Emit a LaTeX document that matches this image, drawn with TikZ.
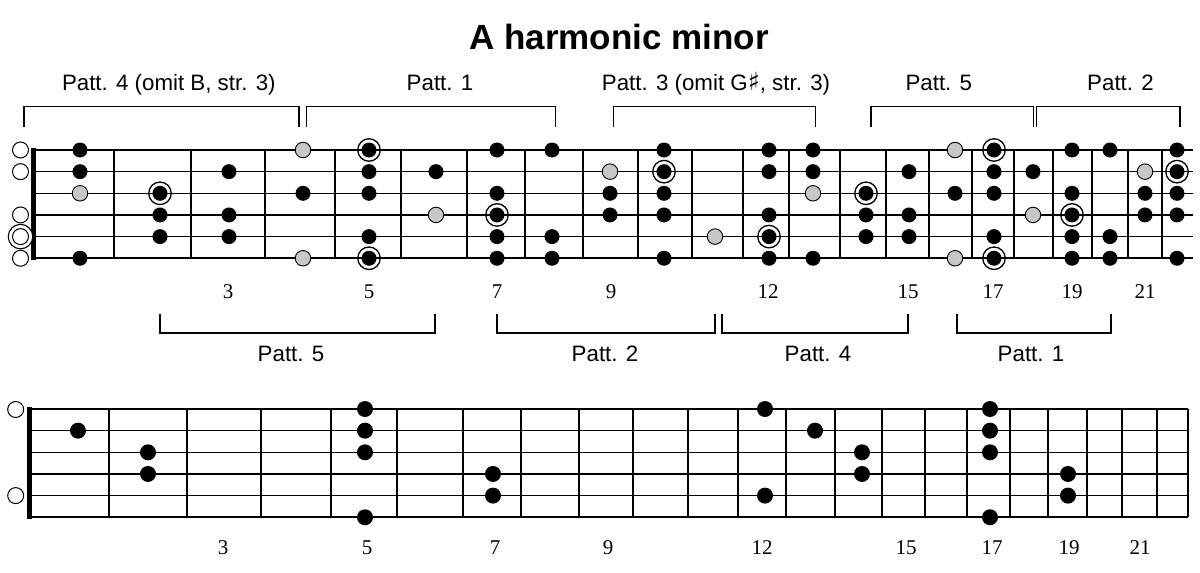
\documentclass[tikz,border=0pt]{standalone}
\usepackage{fontspec}
\setmainfont{Liberation Sans}
\newfontfamily\numfont{Liberation Serif}
\newfontfamily\symfont{DejaVu Sans}
\begin{document}
\begin{tikzpicture}[x=1pt,y=-1pt,
  blk/.style={circle,fill=black,inner sep=0pt,minimum size=15pt},
  gry/.style={circle,fill=black!22,draw=black,line width=0.9pt,inner sep=0pt,minimum size=15.5pt},
  ring/.style={circle,draw=black,line width=1.3pt,inner sep=0pt,minimum size=22.5pt},
  opn/.style={circle,draw=black,fill=white,line width=1pt,inner sep=0pt,minimum size=16pt},
  fretline/.style={line width=1.8pt},
  nutline/.style={line width=5pt},
  brk/.style={line width=1.3pt},
  patt/.style={font=\fontsize{22.3}{26}\selectfont,anchor=base},
  fnum/.style={font=\numfont\fontsize{21}{24}\selectfont,anchor=base},
  ttl/.style={font=\bfseries\fontsize{35}{40}\selectfont,anchor=base}]
\useasboundingbox (0,0) rectangle (1200,573);

% title
\node[ttl] (title) at (619,49) {A harmonic minor};

% ---------- top fretboard ----------
\foreach \s/\w in {1/1.8,2/1.1,3/1.1,4/1.6,5/1.6,6/1.8}
  \draw[line width=\w pt] (33,{150+(\s-1)*21.65}) -- (1193,{150+(\s-1)*21.65});
\foreach \f in {114,191,265,335,401,467,525,583,638,692,789,840,886,929,1014,1053,1092,1128,1162}
  \draw[fretline] (\f,150) -- (\f,258.25);
\foreach \f in {743,972}
  \draw[line width=2.6pt] (\f,150) -- (\f,258.25);
\draw[nutline] (33,148) -- (33,260);

% open strings
\foreach \s in {1,2,4,6}
  \node[opn] (top-o\s) at (20.5,{150+(\s-1)*21.65}) {};
\node[circle,draw=black,fill=white,line width=1.1pt,inner sep=0pt,minimum size=24.5pt] (top-o5r) at (20.5,236.6) {};
\node[opn] (top-o5) at (20.5,236.6) {};

% black dots
\foreach \x/\s in {80/1,80/2,80/6, 160/4,160/5, 229/2,229/4,229/5, 303/3,
  369/2,369/3,369/5, 436/2, 497/1,497/3,497/5,497/6, 552/1,552/5,552/6,
  610/3,610/4, 664/1,664/3,664/4,664/6, 769/1,769/2,769/4,769/6,
  813/1,813/2,813/6, 866/4,866/5, 909/2,909/4,909/5, 955/3,
  994/2,994/3,994/5, 1033/2, 1072/1,1072/3,1072/5,1072/6, 1110/1,1110/5,1110/6,
  1145/3,1145/4, 1177/1,1177/3,1177/4,1177/6}
  \node[blk] (tb-\x-\s) at (\x,{150+(\s-1)*21.65}) {};
% grey dots
\foreach \x/\s in {80/3, 303/1,303/6, 436/4, 610/2, 715/5, 813/3, 955/1,955/6, 1033/4, 1145/2}
  \node[gry] (tg-\x-\s) at (\x,{150+(\s-1)*21.65}) {};
% roots
\foreach \x/\s in {160/3, 369/1,369/6, 497/4, 664/2, 769/5, 866/3, 994/1,994/6, 1072/4, 1177/2}
  {\node[ring] (tr-\x-\s) at (\x,{150+(\s-1)*21.65}) {};
   \node[blk] (trd-\x-\s) at (\x,{150+(\s-1)*21.65}) {};}

% fret numbers top
\foreach \x/\n in {228/3,369/5,497/7,611/9,768/12,908/15,993/17,1072/19,1145/21}
  \node[fnum] (tn-\n) at (\x,298) {\n};

% ---------- brackets top ----------
\draw[brk] (24,127) -- (24,106.5) -- (299,106.5) -- (299,127);
\draw[brk] (306.7,127) -- (306.7,106.5) -- (555.7,106.5) -- (555.7,127);
\draw[brk] (613.3,127) -- (613.3,106.5) -- (815.7,106.5) -- (815.7,127);
\draw[brk] (871,127) -- (871,106.5) -- (1033.3,106.5) -- (1033.3,127);
\draw[brk] (1036.7,127) -- (1036.7,106.5) -- (1180,106.5) -- (1180,127);
\node[patt] (p4) at (168.8,90.5) {Patt. 4 (omit B, str. 3)};
\node[patt] (p1) at (440,90.5) {Patt. 1};
\node[patt] (p3) at (716,90.5) {Patt. 3 (omit G{\symfont\fontsize{25}{26}\selectfont ♯}, str. 3)};
\node[patt] (p5) at (938.8,90.5) {Patt. 5};
\node[patt] (p2) at (1120.5,90.5) {Patt. 2};

% ---------- brackets bottom ----------
\draw[brk] (160,314) -- (160,333) -- (435,333) -- (435,314);
\draw[brk] (497,314) -- (497,333) -- (715,333) -- (715,314);
\draw[brk] (722,314) -- (722,333) -- (908,333) -- (908,314);
\draw[brk] (957,314) -- (957,333) -- (1111,333) -- (1111,314);
\node[patt] (q5) at (291,361) {Patt. 5};
\node[patt] (q2) at (605,361) {Patt. 2};
\node[patt] (q4) at (818,361) {Patt. 4};
\node[patt] (q1) at (1031,361) {Patt. 1};

% ---------- bottom fretboard ----------
\foreach \s/\w in {1/1.8,2/1.1,3/1.1,4/1.6,5/1.6,6/1.8}
  \draw[line width=\w pt] (29,{409+(\s-1)*21.65}) -- (1188,{409+(\s-1)*21.65});
\foreach \f in {109,187,261,331,397,463,521,579,633,688,738,786,835,882,967,1010,1048,1122,1157,1188}
  \draw[fretline] (\f,409) -- (\f,517.25);
\foreach \f in {925,1087}
  \draw[line width=2.6pt] (\f,409) -- (\f,517.25);
\draw[nutline] (29,407) -- (29,519);

\node[opn] (bo1) at (15.7,409.5) {};
\node[opn] (bo5) at (15.7,495.6) {};

\foreach \x/\s in {78/2, 148/3,148/4, 365/1,365/2,365/3,365/6, 493/4,493/5,
  765/1,765/5, 815/2, 862/3,862/4, 990/1,990/2,990/3,990/6, 1068/4,1068/5}
  \node[blk,minimum size=16pt] (bb-\x-\s) at (\x,{409+(\s-1)*21.65}) {};

\foreach \x/\n in {223/3,367/5,495/7,608/9,762/12,906/15,992/17,1069/19,1140/21}
  \node[fnum] (bn-\n) at (\x,554) {\n};
\end{tikzpicture}
\end{document}
